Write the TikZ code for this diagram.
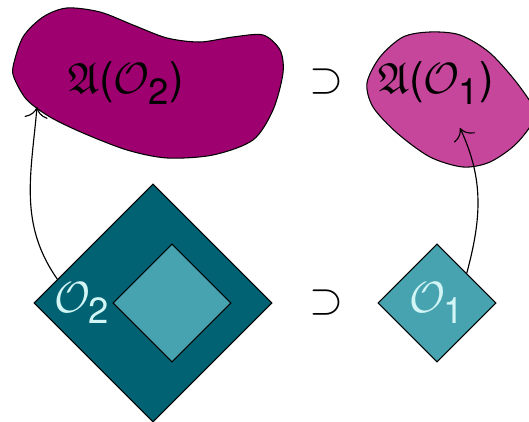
\documentclass[tikz,border=0pt]{standalone}
\definecolor{algdark}{RGB}{158,0,112}
\definecolor{alglight}{RGB}{197,70,155}
\definecolor{regdark}{RGB}{0,98,114}
\definecolor{reglight}{RGB}{72,163,176}
\definecolor{regtext}{RGB}{210,245,245}
\usepackage{amsmath,amssymb}
\usepackage{fontspec}
\setsansfont{TeX Gyre Heros}
\usepackage{tikz}
\usetikzlibrary{arrows.meta,shapes.geometric,positioning}
\newcommand{\alg}[1]{$\mathfrak{A}$\textsf{(}$\mathcal{O}_{\textsf{#1}}$\textsf{)}}

\begin{document}
\begin{tikzpicture}[
      region/.style={draw=black, shape=diamond, aspect=1, inner sep=0pt,
        line width=0.6pt},
      algblob/.style={draw=black, line width=0.6pt},
      lbl/.style={font=\Huge},
      incl/.style={font=\Huge},
      mapto/.style={-{To[length=2.2mm]}, line width=0.65pt},
    ]
    \useasboundingbox (0,0) rectangle (10.58,8.44);
    % algebras
    \draw[algblob, fill=algdark] plot[smooth cycle] coordinates {
      (0.26,7.10) (0.46,7.70) (0.86,8.10) (1.34,8.28) (2.00,8.20) (2.66,7.94)
      (3.34,7.68) (4.00,7.60) (4.66,7.70) (5.26,7.74) (5.60,7.44) (5.66,6.98)
      (5.46,6.24) (5.06,5.64) (4.26,5.34) (3.34,5.28) (2.54,5.44) (1.66,5.78)
      (1.00,6.10) (0.54,6.44) (0.30,6.84)};
    \draw[algblob, fill=alglight] plot[smooth cycle] coordinates {
      (7.34,6.78) (7.60,7.30) (8.06,7.70) (8.60,7.80) (9.20,7.74) (9.80,7.38)
      (10.40,6.70) (10.70,6.14) (10.34,5.58) (9.80,5.20) (9.26,5.10)
      (8.60,5.30) (7.94,5.78) (7.46,6.30)};
    \node[lbl] (alg2) at (2.52,6.78) {\alg{2}};
    \node[lbl] (alg1) at (8.72,6.78) {\alg{1}};
    \node[incl] (suptop) at (6.54,6.80) {$\supset$};
    \coordinate (alg2in) at (0.74,6.30);
    \coordinate (alg1in) at (9.20,5.88);

    % regions
    \node[region, fill=regdark, minimum size=4.76cm] (o2outer) at (3.06,2.38) {};
    \node[region, fill=reglight, minimum size=2.36cm] (o2inner) at (3.44,2.38) {};
    \node[lbl, text=regtext] (o2lbl) at (1.64,2.38) {$\mathcal{O}_{\textsf{2}}$};
    \node[incl] (supbot) at (6.54,2.38) {$\supset$};
    \node[region, fill=reglight, minimum size=2.36cm, font=\Huge, text=regtext]
      (o1) at (8.74,2.38) {$\mathcal{O}_{\textsf{1}}$};

    \draw[mapto] (o2outer.166) to[out=125,in=-95] (alg2in);
    \draw[mapto] (o1.45) to[out=75,in=-65] (alg1in);
  \end{tikzpicture}
\end{document}
